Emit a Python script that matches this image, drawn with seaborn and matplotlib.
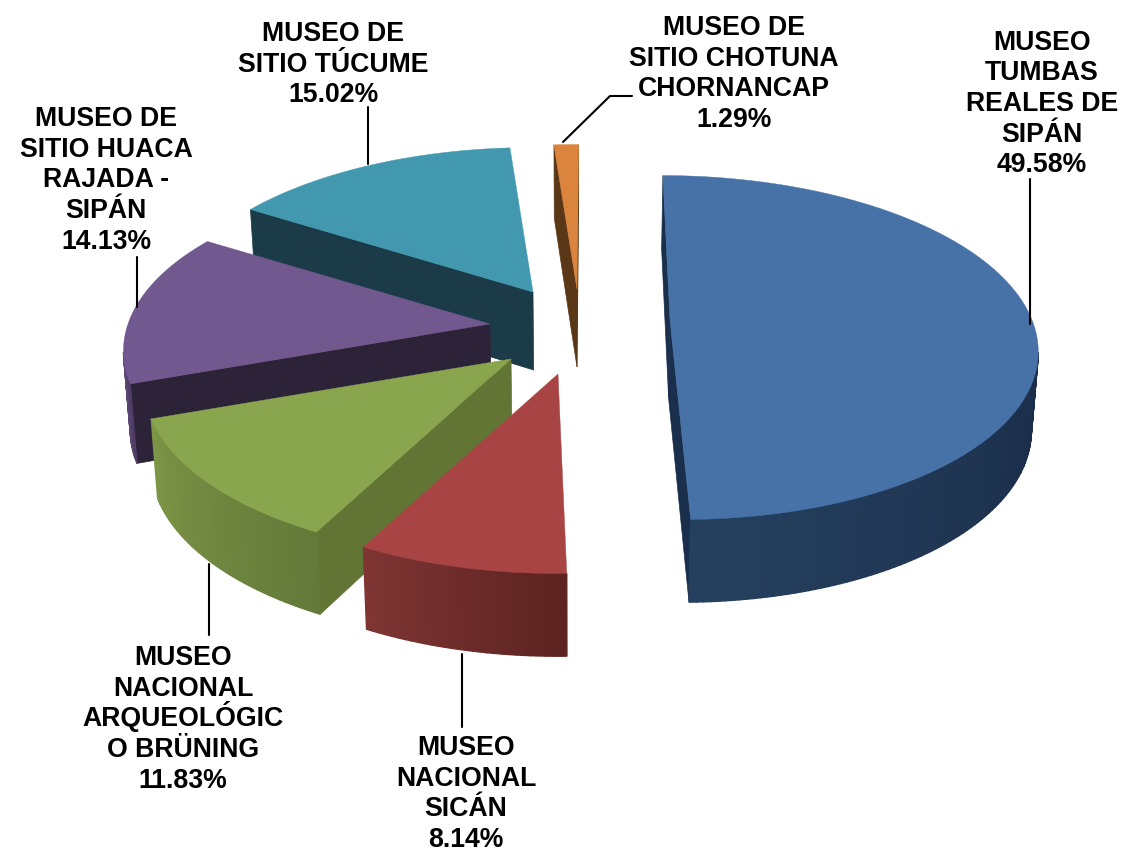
import numpy as np
import seaborn as sns
import matplotlib.pyplot as plt

museums = ["MUSEO\nTUMBAS\nREALES DE\nSIPÁN", "MUSEO\nNACIONAL\nSICÁN",
           "MUSEO\nNACIONAL\nARQUEOLÓGIC\nO BRÜNING", "MUSEO DE\nSITIO HUACA\nRAJADA -\nSIPÁN",
           "MUSEO DE\nSITIO TÚCUME", "MUSEO DE\nSITIO CHOTUNA\nCHORNANCAP"]
shares = [49.58, 8.14, 11.83, 14.13, 15.02, 1.29]

top_colors = ["#4672A8", "#A84544", "#89A54E", "#71588F", "#4198AF", "#DB843D"]
wall_colors = ["#1A2F4C", "#5C2321", "#627535", "#2D2338", "#1A3B47", "#5A3716"]
arc_light = ["#25405F", "#7E3533", "#7D9546", "#5B4673", "#2A5D6E", "#8A5524"]
arc_dark = ["#1A2C48", "#5C2321", "#637A3A", "#4E3C64", "#1A3B47", "#5A3716"]

# layout, screen px
apex = [(670, 321), (558, 375), (511, 360), (490, 325), (533, 293), (577, 290)]
lean = [0.06, 0, 0, 0, 0, 0]
label_pos = [(1042, 49.5), (466, 755), (183, 665), (106, 126), (333, 41), (734, 35)]
leaders = [[(1030, 325), (1030, 180)], [(462, 655), (462, 728)], [(209, 565), (209, 636)],
           [(137, 308), (137, 258)], [(368, 165), (368, 108)], [(563, 143), (610, 97), (632, 97)]]
RX, RY, PERSP, DEPTH = 362, 172, 0.16, 78
START = 0.3
LINE_PITCH = 30.7

sns.set_style("white")
plt.rcParams['font.family'] = ['Liberation Sans', 'DejaVu Sans']

fig, ax = plt.subplots(figsize=(11.23, 8.54), dpi=100)
ax.set_position([0, 0, 1, 1])
ax.set_xlim(0, 1123)
ax.set_ylim(854, 0)
ax.axis("off")


def outer_points(i, a0, a1):
    th = np.radians(np.linspace(a0, a1, max(int(a1 - a0) + 1, 5)))
    u, v = np.sin(th), -np.cos(th)
    s = 1 + PERSP * v
    ys = RY * v * s
    return apex[i][0] + RX * u * s + lean[i] * ys, apex[i][1] + ys, v


def lower(x, y, v):
    # the underside sits a bit closer to the middle of the picture
    return x + (577 - x) * 0.015, y + DEPTH * (1 + 0.06 * v)


def quad(p, vp, q, vq, **kw):
    px, py = lower(p[0], p[1], vp)
    qx, qy = lower(q[0], q[1], vq)
    ax.fill([p[0], q[0], qx, px], [p[1], q[1], qy, py], **kw)


def draw_slice(i, a0, a1):
    xs, ys, vs = outer_points(i, a0, a1)
    z = i * -10
    # radial walls behind the rim
    if xs[0] < apex[i][0]:
        quad(apex[i], 0, (xs[0], ys[0]), vs[0], color=wall_colors[i], lw=0.5, zorder=z)
    if apex[i][0] < xs[-1]:
        quad((xs[-1], ys[-1]), vs[-1], apex[i], 0, color=wall_colors[i], lw=0.5, zorder=z)
    # rim, shaded strip by strip
    idx = [j for j in range(len(xs) - 1) if xs[j + 1] < xs[j]]
    if idx:
        shades = sns.blend_palette([arc_dark[i], arc_light[i]], len(idx))
        for n, j in enumerate(idx):
            quad((xs[j], ys[j]), vs[j], (xs[j + 1], ys[j + 1]), vs[j + 1],
                 color=shades[n], lw=1.0, zorder=z + 1)
    ax.fill(np.r_[apex[i][0], xs], np.r_[apex[i][1], ys], color=top_colors[i], lw=0.3, zorder=z + 2)


angle = START
for i, val in enumerate(shares):
    sweep = val / sum(shares) * 360
    draw_slice(i, angle, angle + sweep)
    angle += sweep

for i, name in enumerate(museums):
    lines = f"{name}\n{shares[i]:.2f}%".split("\n")
    for n, line in enumerate(lines):
        ax.text(label_pos[i][0], label_pos[i][1] + n * LINE_PITCH, line, ha="center", va="baseline",
                fontsize=19.2, fontweight="bold", color="black", zorder=5)
    pts = np.array(leaders[i])
    ax.plot(pts[:, 0], pts[:, 1], color="black", lw=1.5, zorder=4)

fig.savefig("out.png", dpi=100)
